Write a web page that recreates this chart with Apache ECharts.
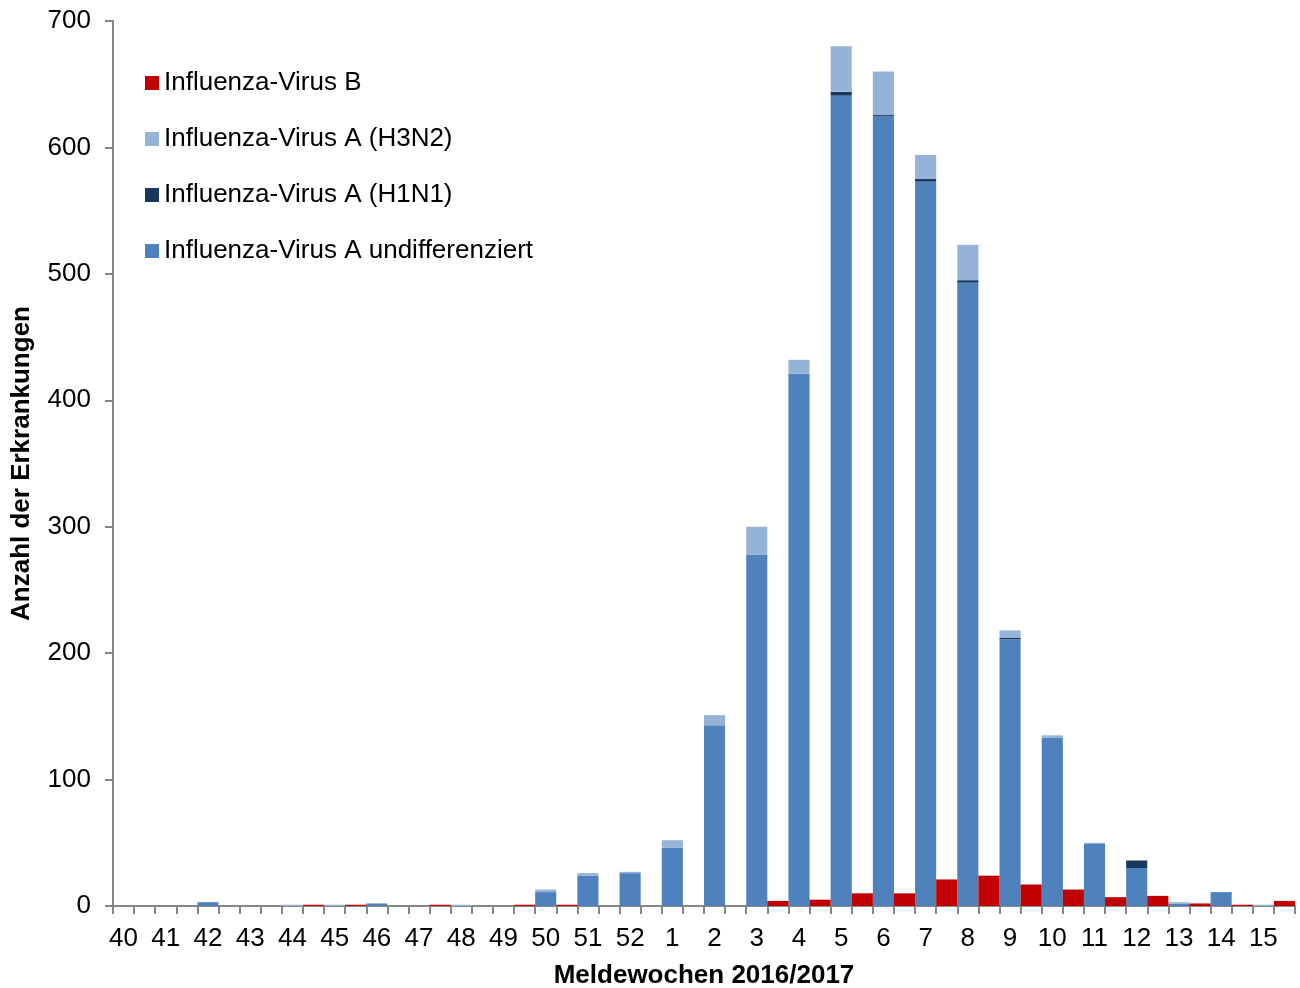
<!DOCTYPE html>
<html>
<head>
<meta charset="utf-8">
<script src="https://cdn.jsdelivr.net/npm/echarts@6/dist/echarts.min.js"></script>
<style>
  html, body { margin: 0; padding: 0; background: #fff; }
  #chart { width: 1300px; height: 988px; }
</style>
</head>
<body>
<div id="chart"></div>
<script>
// Meldewochen 40/2016 bis 15/2017
var weeks = ["40", "41", "42", "43", "44", "45", "46", "47", "48", "49", "50", "51", "52",
  "1", "2", "3", "4", "5", "6", "7", "8", "9", "10", "11", "12", "13", "14", "15"];
var undiff = [0, 0, 3, 0, 0, 0, 2, 0, 0, 0, 11, 24, 26, 46, 143, 278, 421, 641, 625, 573, 493, 211, 133, 49, 30, 2, 11, 0];
var h1n1 = [0, 0, 0, 0, 0, 0, 0, 0, 0, 0, 0, 0, 0, 0, 0, 0, 0, 3, 1, 2, 2, 1, 0, 0, 6, 0, 0, 0];
var h3n2 = [0, 0, 0, 0, 1, 1, 0, 0, 1, 0, 2, 2, 1, 6, 8, 22, 11, 36, 34, 19, 28, 6, 2, 1, 0, 1, 0, 1];
var virusB = [0, 0, 0, 0, 1, 1, 0, 1, 0, 1, 1, 0, 0, 0, 0, 4, 5, 10, 10, 21, 24, 17, 13, 7, 8, 2, 1, 4];
var yTicks = [0, 100, 200, 300, 400, 500, 600, 700];

// jede Woche bekommt zwei Plaetze: links Influenza A (gestapelt), rechts Influenza B
var slots = [];
var slotLabels = [];
weeks.forEach(function (w) {
  slots.push("A" + w, "B" + w);
  slotLabels.push(w, "");
});
function leftSlot(arr) {
  var out = [];
  arr.forEach(function (v) { out.push(v, "-"); });
  return out;
}
function rightSlot(arr) {
  var out = [];
  arr.forEach(function (v) { out.push("-", v); });
  return out;
}

var myChart = echarts.init(document.getElementById("chart"));
var font = "Liberation Sans, Arial, sans-serif";

var option = {
  animation: false,
  textStyle: { fontFamily: font },
  grid: { left: 113, right: 5, top: 21, bottom: 82, containLabel: false, outerBoundsMode: "none" },
  legend: {
    orient: "vertical",
    left: 140,
    top: 65,
    itemWidth: 14,
    itemHeight: 14,
    itemGap: 30,
    icon: "rect",
    data: ["Influenza-Virus B", "Influenza-Virus A (H3N2)", "Influenza-Virus A (H1N1)", "Influenza-Virus A undifferenziert"],
    textStyle: { fontSize: 26, color: "#000", fontFamily: font }
  },
  xAxis: {
    type: "category",
    data: slots,
    name: "Meldewochen 2016/2017",
    nameLocation: "middle",
    nameGap: 57,
    nameTextStyle: { fontSize: 26, fontWeight: "bold", color: "#000", fontFamily: font },
    axisLine: { lineStyle: { color: "#868686", width: 2 } },
    axisTick: { show: true, interval: 0, length: 8, lineStyle: { color: "#868686", width: 2 } },
    axisLabel: {
      interval: 0,
      margin: 20,
      fontSize: 26,
      color: "#000",
      fontFamily: font,
      formatter: function (v, i) { return slotLabels[i]; }
    }
  },
  yAxis: {
    type: "value",
    min: yTicks[0],
    max: yTicks[yTicks.length - 1],
    interval: 100,
    name: "Anzahl der Erkrankungen",
    nameLocation: "middle",
    nameGap: 78,
    nameTextStyle: { fontSize: 26, fontWeight: "bold", color: "#000", fontFamily: font },
    splitLine: { show: false },
    axisLine: { show: true, lineStyle: { color: "#868686", width: 2 } },
    axisTick: { show: true, length: 8, lineStyle: { color: "#868686", width: 2 } },
    axisLabel: { fontSize: 26, color: "#000", margin: 22, fontFamily: font }
  },
  series: [
    {
      name: "Influenza-Virus A undifferenziert",
      type: "bar",
      stack: "all",
      barCategoryGap: "0%",
      data: leftSlot(undiff),
      itemStyle: { color: "#4F81BD" }
    },
    {
      name: "Influenza-Virus A (H1N1)",
      type: "bar",
      stack: "all",
      data: leftSlot(h1n1),
      itemStyle: { color: "#17375E" }
    },
    {
      name: "Influenza-Virus A (H3N2)",
      type: "bar",
      stack: "all",
      data: leftSlot(h3n2),
      itemStyle: { color: "#95B3D7" }
    },
    {
      name: "Influenza-Virus B",
      type: "bar",
      stack: "all",
      data: rightSlot(virusB),
      itemStyle: { color: "#C00000" }
    }
  ]
};

myChart.setOption(option);
</script>
</body>
</html>
